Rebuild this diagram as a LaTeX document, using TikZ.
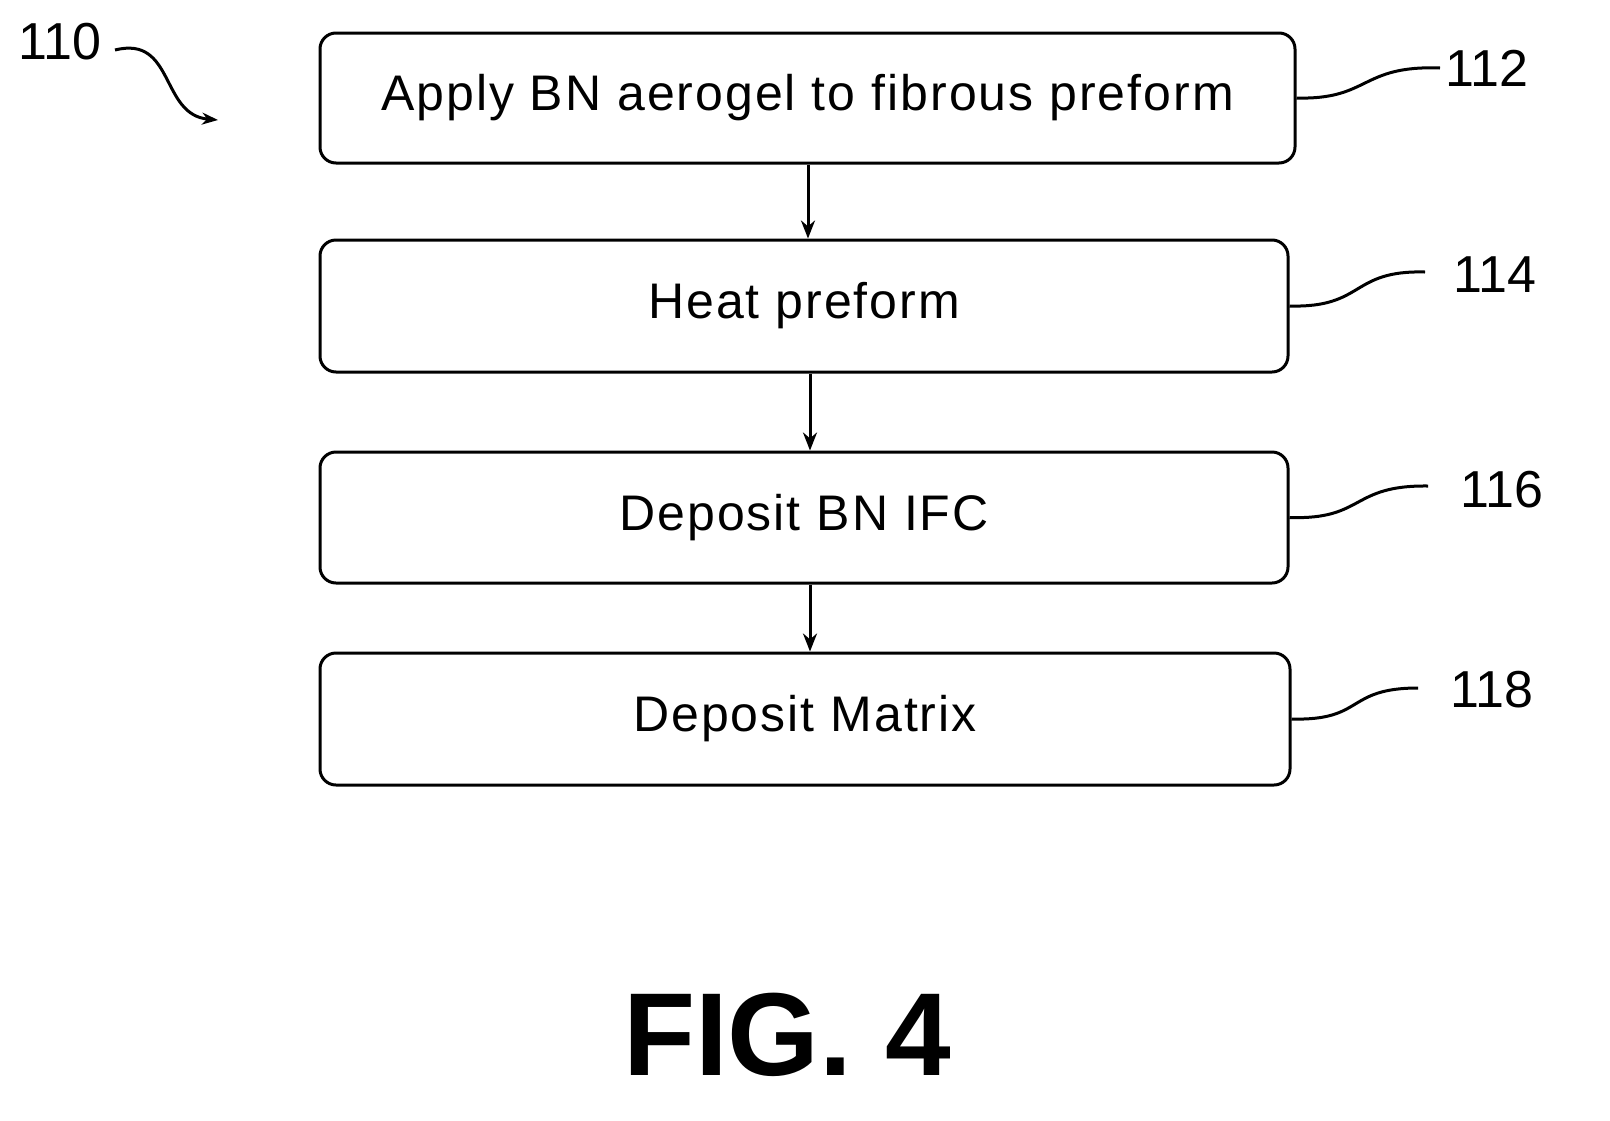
\documentclass[tikz,border=0pt]{standalone}
\usepackage{fontspec}
\setmainfont{Liberation Sans}
\newfontfamily\widefont[LetterSpace=4]{Liberation Sans}
\usetikzlibrary{arrows.meta}
\tikzset{
  stepbox/.style={draw, line width=3pt, rounded corners=16pt, font=\widefont\fontsize{50}{54}\selectfont},
  flow/.style={-{Stealth[length=18pt,width=14pt]}, line width=3pt},
  lead/.style={line width=3pt},
  num/.style={font=\fontsize{52}{56}\selectfont}
}
\begin{document}
\begin{tikzpicture}[x=1pt,y=-1pt]
\useasboundingbox (0,0) rectangle (1610,1120);

% Boxes
\node[stepbox, minimum width=975pt, minimum height=130pt] (apply) at (807.5,98) {Apply BN aerogel to fibrous preform};
\node[stepbox, minimum width=968pt, minimum height=132pt] (heat) at (804,306) {Heat preform};
\node[stepbox, minimum width=968pt, minimum height=131pt] (ifc) at (804,517.5) {Deposit BN IFC};
\node[stepbox, minimum width=970pt, minimum height=132pt] (matrix) at (805,719) {Deposit Matrix};

% Arrows
\draw[flow] (apply.south -| 808,0) -- (heat.north -| 808,0);
\draw[flow] (heat.south -| 810,0) -- (ifc.north -| 810,0);
\draw[flow] (ifc.south -| 810,0) -- (matrix.north -| 810,0);

% Reference numbers
\node[num] (n110) at (60,42) {110};
\node[num] (n112) at (1487,68) {112};
\node[num] (n114) at (1495,275) {114};
\node[num] (n116) at (1502,490) {116};
\node[num] (n118) at (1492,690) {118};

\coordinate (tip110) at (218,120);
\draw[lead, -{Stealth[length=16pt,width=12pt]}] (115,50) .. controls (175,35) and (160,115) .. (tip110);
\draw[lead] (apply.east) .. controls (1370,100) and (1360,65) .. (1440,68);
\draw[lead] (heat.east) .. controls (1365,308) and (1350,270) .. (1425,272);
\draw[lead] (ifc.east) .. controls (1365,520) and (1350,485) .. (1428,486);
\draw[lead] (matrix.east) .. controls (1365,721) and (1345,688) .. (1418,688);

% Caption
\node[font=\bfseries\fontsize{118}{122}\selectfont] (fig) at (787,1035) {FIG. 4};
\end{tikzpicture}
\end{document}
